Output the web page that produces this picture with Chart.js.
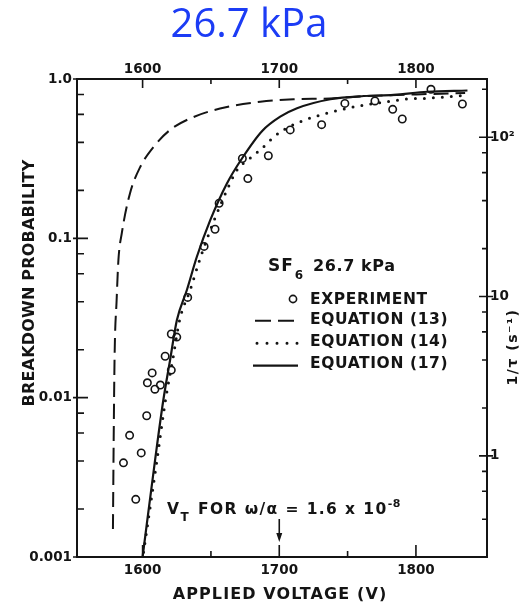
<!DOCTYPE html>
<html>
<head>
<meta charset="utf-8">
<script src="https://cdn.jsdelivr.net/npm/chart.js@4.4.1/dist/chart.umd.min.js"></script>
<style>
  html, body { margin: 0; padding: 0; background: #fff; }
  canvas { display: block; }
</style>
</head>
<body>
<canvas id="chart" width="529" height="607"></canvas>
<script>
// Datos (SF6, 26.7 kPa)
const expVoltage = [1586, 1590.5, 1595, 1599, 1603, 1603.5, 1607, 1609, 1613, 1616.5, 1621, 1621, 1625, 1633, 1645, 1653, 1656, 1673, 1677, 1692, 1708, 1731, 1748, 1770, 1783, 1790, 1811, 1834];
const expProb = [0.0039, 0.0058, 0.0023, 0.0045, 0.0077, 0.0124, 0.0143, 0.0113, 0.012, 0.0182, 0.0149, 0.0251, 0.024, 0.0426, 0.089, 0.114, 0.166, 0.317, 0.237, 0.33, 0.479, 0.517, 0.703, 0.728, 0.645, 0.561, 0.862, 0.697];

// Ecuacion (13) - linea de trazos
const eq13Voltage = [1578.3, 1578.8, 1579.5, 1581, 1582.3, 1584.8, 1590.8, 1598.2, 1607.9, 1620.1, 1637.2, 1661.7, 1686.1, 1710.5, 1737, 1763, 1800, 1836];
const eq13Prob = [0.0015, 0.005, 0.018, 0.041, 0.073, 0.108, 0.192, 0.28, 0.374, 0.479, 0.577, 0.667, 0.72, 0.746, 0.755, 0.78, 0.8, 0.817];

// Ecuacion (14) - linea de puntos
const eq14Voltage = [1600.7, 1610.6, 1616.8, 1622, 1627.1, 1634.8, 1642.5, 1652.4, 1663.4, 1669, 1680, 1687.3, 1695.8, 1703.1, 1716.6, 1737.4, 1758.1, 1778.9, 1793.6, 1808.2, 1822.9, 1837.5];
const eq14Prob = [0.00107, 0.0041, 0.0097, 0.0172, 0.0307, 0.0474, 0.0766, 0.13, 0.216, 0.268, 0.325, 0.367, 0.431, 0.479, 0.545, 0.618, 0.677, 0.72, 0.749, 0.757, 0.774, 0.793];

// Ecuacion (17) - linea continua
const eq17Voltage = [1600, 1609.2, 1615.2, 1620.1, 1625.1, 1632.4, 1639.7, 1649.5, 1661.7, 1672.7, 1687.5, 1700.7, 1713, 1737.4, 1761.8, 1783.7, 1808.2, 1837.7];
const eq17Prob = [0.001, 0.0041, 0.0097, 0.0172, 0.0307, 0.0474, 0.0766, 0.13, 0.221, 0.317, 0.472, 0.58, 0.655, 0.746, 0.782, 0.794, 0.832, 0.847];

// Ticks de los ejes
const voltTicks = [1600, 1650, 1700, 1750, 1800];
const voltLabels = [1600, 1700, 1800];
const probTicks = [0.001, 0.002, 0.004, 0.006, 0.008, 0.01, 0.02, 0.04, 0.06, 0.08, 0.1, 0.2, 0.4, 0.6, 0.8, 1];
const probLabels = { 0.001: "0.001", 0.01: "0.01", 0.1: "0.1", 1: "1.0" };
const rateTicks = [0.4, 0.6, 0.8, 1, 2, 4, 6, 8, 10, 20, 40, 60, 80, 100, 200];
const rateLabels = { 1: "1", 10: "10", 100: "10\u00B2" };

const INK = "#141414";
const FONT = '"DejaVu Sans", sans-serif';
const TITLE_FONT = '"Open Sans", sans-serif';

function pairs(xs, ys) {
  return xs.map((x, i) => ({ x: x, y: ys[i] }));
}

function setTicks(values) {
  return (scale) => {
    scale.ticks = values.map((v) => ({ value: v }));
  };
}

// Dibuja texto con espaciado entre letras
function drawText(ctx, str, x, y, size, align, spacing, weight, family) {
  ctx.font = `${weight || "bold"} ${size}px ${family || FONT}`;
  ctx.letterSpacing = `${spacing || 0}px`;
  ctx.textAlign = align || "left";
  ctx.textBaseline = "middle";
  ctx.fillText(str, x, y);
  return ctx.measureText(str).width;
}

/**Plugin que dibuja las marcas interiores, la leyenda y las anotaciones*/
const paperDecor = {
  id: "paperDecor",
  afterDraw(chart) {
    const ctx = chart.ctx;
    const a = chart.chartArea;
    const { x, x2, y, y2 } = chart.scales;
    ctx.save();
    ctx.strokeStyle = INK;
    ctx.fillStyle = INK;
    ctx.lineWidth = 1.6;

    // marcas de los ejes (hacia dentro)
    ctx.beginPath();
    x.ticks.forEach((t) => {
      const px = x.getPixelForValue(t.value);
      const major = voltLabels.includes(t.value);
      ctx.moveTo(px, a.bottom);
      ctx.lineTo(px, a.bottom - (major ? 12 : 6));
    });
    x2.ticks.forEach((t) => {
      const px = x2.getPixelForValue(t.value);
      const major = voltLabels.includes(t.value);
      ctx.moveTo(px, a.top);
      ctx.lineTo(px, a.top + (major ? 9 : 5));
    });
    y.ticks.forEach((t) => {
      const py = y.getPixelForValue(t.value);
      const major = probLabels[t.value] !== undefined;
      ctx.moveTo(a.left - (major ? 4 : 0), py);
      ctx.lineTo(a.left + (major ? 11 : 7), py);
    });
    y2.ticks.forEach((t) => {
      const py = y2.getPixelForValue(t.value);
      const major = rateLabels[t.value] !== undefined;
      ctx.moveTo(a.right + (major ? 6 : 0), py);
      ctx.lineTo(a.right - (major ? 8 : 5), py);
    });
    ctx.stroke();

    // titulo
    ctx.fillStyle = "#1c3cf5";
    drawText(ctx, "26.7 kPa", 249, 26, 40, "center", 0, "normal", TITLE_FONT);
    ctx.fillStyle = INK;

    // titulos de los ejes
    drawText(ctx, "APPLIED VOLTAGE (V)", 280, 595, 16, "center", 1.1);
    ctx.save();
    ctx.translate(30, 283);
    ctx.rotate(-Math.PI / 2);
    drawText(ctx, "BREAKDOWN PROBABILITY", 0, 0, 16, "center", 0.2);
    ctx.restore();
    ctx.save();
    ctx.translate(513, 347);
    ctx.rotate(-Math.PI / 2);
    drawText(ctx, "1/\u03C4 (s\u207B\u00B9)", 0, 0, 14, "center", 1.5);
    ctx.restore();

    // leyenda
    let cx = 268;
    cx += drawText(ctx, "SF", cx, 267, 17, "left", 1);
    drawText(ctx, "6", cx + 1, 276, 12, "left", 0);
    drawText(ctx, "26.7 kPa", 313, 267, 16, "left", 0.6);

    ctx.lineWidth = 1.6;
    ctx.beginPath();
    ctx.arc(293, 299, 3.6, 0, Math.PI * 2);
    ctx.stroke();
    drawText(ctx, "EXPERIMENT", 310, 299.5, 15.5, "left", 0.6);

    ctx.lineWidth = 2;
    ctx.setLineDash([16, 7]);
    ctx.beginPath();
    ctx.moveTo(255, 320.7);
    ctx.lineTo(298, 320.7);
    ctx.stroke();
    drawText(ctx, "EQUATION (13)", 310, 320, 15.5, "left", 0.6);

    ctx.lineWidth = 3;
    ctx.lineCap = "round";
    ctx.setLineDash([0, 10]);
    ctx.beginPath();
    ctx.moveTo(257, 343.3);
    ctx.lineTo(298, 343.3);
    ctx.stroke();
    drawText(ctx, "EQUATION (14)", 310, 341.5, 15.5, "left", 0.6);

    ctx.lineWidth = 2.2;
    ctx.lineCap = "butt";
    ctx.setLineDash([]);
    ctx.beginPath();
    ctx.moveTo(253, 365.7);
    ctx.lineTo(298, 365.7);
    ctx.stroke();
    drawText(ctx, "EQUATION (17)", 310, 363.5, 15.5, "left", 0.6);

    // anotacion V_T y flecha en 1700 V
    let tx = 167;
    tx += drawText(ctx, "V", tx, 510, 15.5, "left", 1.5);
    tx += drawText(ctx, "T", tx, 518, 12, "left", 1.5);
    tx += drawText(ctx, " FOR \u03C9/\u03B1 = 1.6 x 10", tx + 1, 510, 15.5, "left", 1.4);
    drawText(ctx, "-8", tx + 1, 504, 11, "left", 0.5);

    const ax = x.getPixelForValue(1700);
    ctx.lineWidth = 1.6;
    ctx.beginPath();
    ctx.moveTo(ax, 519);
    ctx.lineTo(ax, 534);
    ctx.stroke();
    ctx.beginPath();
    ctx.moveTo(ax - 3, 533);
    ctx.lineTo(ax + 3, 533);
    ctx.lineTo(ax, 542);
    ctx.closePath();
    ctx.fill();

    ctx.restore();
  },
};

const tickFont = { family: FONT, size: 13.5, weight: "bold" };

new Chart(document.getElementById("chart"), {
  type: "line",
  data: {
    datasets: [
      {
        label: "EXPERIMENT",
        data: pairs(expVoltage, expProb),
        showLine: false,
        pointStyle: "circle",
        pointRadius: 3.7,
        pointBorderWidth: 1.6,
        borderColor: INK,
        pointBackgroundColor: "rgba(0,0,0,0)",
      },
      {
        label: "EQUATION (13)",
        data: pairs(eq13Voltage, eq13Prob),
        borderColor: INK,
        borderWidth: 2,
        borderDash: [15, 7],
        pointRadius: 0,
        cubicInterpolationMode: "monotone",
      },
      {
        label: "EQUATION (14)",
        data: pairs(eq14Voltage, eq14Prob),
        borderColor: INK,
        borderWidth: 3,
        borderDash: [0, 9],
        borderCapStyle: "round",
        pointRadius: 0,
        cubicInterpolationMode: "monotone",
      },
      {
        label: "EQUATION (17)",
        data: pairs(eq17Voltage, eq17Prob),
        borderColor: INK,
        borderWidth: 2.2,
        pointRadius: 0,
        cubicInterpolationMode: "monotone",
      },
    ],
  },
  options: {
    responsive: false,
    animation: false,
    devicePixelRatio: 1,
    layout: { padding: 0 },
    plugins: {
      legend: { display: false },
      tooltip: { enabled: false },
    },
    scales: {
      x: {
        type: "linear",
        position: "bottom",
        min: 1552,
        max: 1852,
        afterBuildTicks: setTicks(voltTicks),
        afterFit: (s) => { s.height = 50; },
        grid: { display: false, drawTicks: false },
        border: { display: true, color: INK, width: 2 },
        ticks: {
          autoSkip: false,
          maxRotation: 0,
          padding: 5,
          color: INK,
          font: tickFont,
          callback: (v) => (voltLabels.includes(v) ? String(v) : ""),
        },
      },
      x2: {
        type: "linear",
        position: "top",
        min: 1552,
        max: 1852,
        afterBuildTicks: setTicks(voltTicks),
        afterFit: (s) => { s.height = 79; },
        grid: { display: false, drawTicks: false },
        border: { display: true, color: INK, width: 2 },
        ticks: {
          autoSkip: false,
          maxRotation: 0,
          padding: 1,
          color: INK,
          font: tickFont,
          callback: (v) => (voltLabels.includes(v) ? String(v) : ""),
        },
      },
      y: {
        type: "logarithmic",
        position: "left",
        min: 0.001,
        max: 1,
        afterBuildTicks: setTicks(probTicks),
        afterFit: (s) => { s.width = 77; },
        grid: { display: false, drawTicks: false },
        border: { display: true, color: INK, width: 2 },
        ticks: {
          autoSkip: false,
          padding: 5,
          color: INK,
          font: tickFont,
          callback: (v) => probLabels[v] || "",
        },
      },
      y2: {
        type: "logarithmic",
        position: "right",
        min: 0.232,
        max: 232,
        afterBuildTicks: setTicks(rateTicks),
        afterFit: (s) => { s.width = 42; },
        grid: { display: false, drawTicks: false },
        border: { display: true, color: INK, width: 2 },
        ticks: {
          autoSkip: false,
          padding: 3,
          color: INK,
          font: tickFont,
          callback: (v) => rateLabels[v] || "",
        },
      },
    },
  },
  plugins: [paperDecor],
});
</script>
</body>
</html>
